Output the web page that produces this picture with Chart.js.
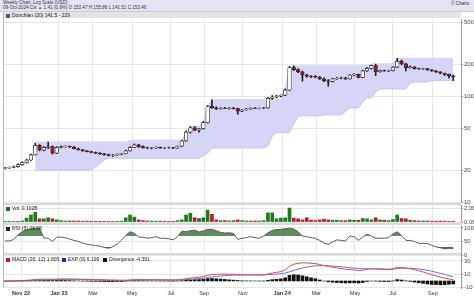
<!DOCTYPE html>
<html>
<head>
<meta charset="utf-8">
<script src="https://cdn.jsdelivr.net/npm/chart.js@4.4.1/dist/chart.umd.min.js"></script>
<style>
  body { margin: 0; width: 474px; height: 296px; overflow: hidden; background: #fff; position: relative; font-family: "Liberation Sans", Arial, sans-serif; }
  canvas { position: absolute; left: 0; top: 0; }
  #head { position: absolute; left: 0; top: 0; width: 474px; height: 11px; background: #e3e3f3; border-bottom: 1px solid #c9c9dd; }
  .htxt { position: absolute; left: 3px; font-size: 4.6px; color: #334; white-space: nowrap; }
  .strip { position: absolute; left: 4px; width: 457px; background: #d9d9d9; }
  .lbl { position: absolute; font-size: 5px; color: #222; white-space: nowrap; z-index: 5; line-height: 6px; }
  .sq { display: inline-block; width: 4px; height: 4px; margin-right: 2px; vertical-align: -0.5px; }
  #edge { position: absolute; left: 3px; top: 12px; width: 1px; height: 276px; background: #b8b8b8; }
</style>
</head>
<body>
<div id="head">
  <div class="htxt" style="top:0px">Weekly Chart, Log Scale (USD)</div>
  <div class="htxt" style="top:5px">09-Oct-2024 Cls <span style="color:#2a9a2a">&#9650;</span> 1.41 (0.9%) O 153.47 H 155.86 L 141.51 C 153.46</div>
  <div class="htxt" style="top:1px;left:451px">&copy; Charts</div>
</div>
<div class="strip" style="top:12px;height:6px;background:#e4e4e4"></div>
<div class="strip" style="top:202px;height:3px"></div>
<div class="strip" style="top:222px;height:3px"></div>
<div class="strip" style="top:253px;height:3px"></div>
<div id="edge"></div>

<div class="lbl" style="left:6px;top:12px"><span class="sq" style="background:#555577"></span>Donchian (20) 141.5 - 229</div>
<div class="lbl" style="left:6px;top:205px"><span class="sq" style="background:#1d6b1d"></span>Vol: 0.102B</div>
<div class="lbl" style="left:6px;top:225px"><span class="sq" style="background:#222"></span>RSI (5) 23.58</div>
<div class="lbl" style="left:6px;top:256px"><span class="sq" style="background:#c0182c"></span>MACD (26, 12) 1.805</div>
<div class="lbl" style="left:62px;top:256px"><span class="sq" style="background:#2a2aa0"></span>EXP (9) 6.196</div>
<div class="lbl" style="left:103px;top:256px"><span class="sq" style="background:#111"></span>Divergence -4.391</div>

<canvas id="mainChart" width="474" height="296"></canvas>
<canvas id="volChart" width="474" height="296"></canvas>
<canvas id="rsiChart" width="474" height="296"></canvas>
<canvas id="macdChart" width="474" height="296"></canvas>

<script>
// ========== DATA (weekly, Oct 2022 - Oct 2024) ========== //
const tickPos = [3.7, 12.5, 20.4, 29.5, 38.5, 46.2, 55.2, 64.3, 72.2, 81.2, 90, 99.3];
const tickLabels = ["Nov 22", "Jan 23", "Mar", "May", "Jul", "Sep", "Nov", "Jan 24", "Mar", "May", "Jul", "Sep"];
const yearLabels = ["Nov 22", "Jan 23", "Jan 24"];

const opens = [
  20.8, 21.0, 21.3, 21.6, 22.6, 23.6, 25.0, 28.0, 34.5, 31.0,
  33.0, 33.5, 29.0, 33.0, 33.5, 33.8, 33.2, 32.0, 31.2, 30.5,
  30.0, 29.5, 29.0, 28.6, 28.1, 27.6, 27.9, 28.3, 28.8, 30.5,
  33.0, 34.8, 33.5, 32.7, 32.4, 32.6, 32.9, 32.5, 32.7, 32.6,
  32.4, 33.8, 38.0, 46.0, 50.5, 48.0, 49.5, 56.5, 81.0, 78.0,
  76.5, 77.5, 77.0, 77.8, 76.8, 72.5, 74.5, 76.5, 77.5, 77.0,
  77.5, 78.0, 96.0, 99.0, 101.0, 103.0, 115.0, 188.0, 180.0, 171.0,
  160.0, 156.0, 155.0, 153.0, 147.0, 141.0, 139.0, 147.0, 149.0, 150.5,
  147.0, 160.0, 162.0, 152.0, 175.0, 185.0, 196.0, 172.0, 176.0, 175.0,
  176.0, 190.0, 215.0, 204.0, 188.0, 191.0, 184.0, 183.0, 183.5, 179.0,
  175.0, 171.0, 166.0, 162.0, 157.0
];
const highs = [
  21.3, 21.5, 22.0, 23.0, 24.0, 25.5, 28.5, 36.0, 35.0, 33.5,
  37.0, 34.0, 33.5, 34.0, 34.2, 34.0, 33.8, 32.5, 31.5, 30.8,
  30.3, 29.8, 29.4, 28.9, 28.5, 28.2, 28.6, 29.0, 31.0, 33.5,
  35.5, 35.2, 34.0, 33.2, 33.0, 33.3, 33.2, 33.0, 33.2, 33.0,
  34.0, 38.5, 47.0, 52.0, 52.0, 50.0, 58.0, 82.0, 93.0, 80.0,
  78.5, 79.0, 78.5, 79.0, 77.5, 75.0, 77.0, 78.0, 78.5, 78.0,
  79.0, 98.0, 102.0, 103.0, 104.0, 118.0, 192.0, 195.0, 183.0, 174.0,
  163.0, 158.0, 158.0, 155.0, 150.0, 145.0, 149.0, 152.0, 153.0, 152.0,
  162.0, 165.0, 163.0, 178.0, 188.0, 198.0, 203.0, 178.0, 178.0, 178.0,
  192.0, 230.0, 222.0, 206.0, 195.0, 192.0, 186.0, 186.0, 184.0, 180.0,
  176.0, 172.0, 167.0, 163.0, 160.0
];
const lows = [
  20.6, 20.8, 21.1, 21.4, 22.3, 23.4, 24.8, 27.8, 30.5, 30.5,
  32.0, 28.5, 28.8, 32.5, 33.0, 32.8, 31.8, 31.0, 30.2, 29.8,
  29.2, 28.7, 28.3, 27.8, 27.3, 27.0, 27.6, 28.0, 28.6, 30.3,
  32.8, 33.0, 32.4, 32.0, 31.8, 32.2, 32.2, 32.0, 32.3, 32.0,
  32.2, 33.5, 37.5, 45.0, 47.5, 46.0, 49.0, 56.0, 77.0, 75.0,
  75.5, 76.5, 76.0, 76.0, 68.0, 72.0, 74.0, 75.5, 76.5, 76.0,
  76.5, 77.5, 94.0, 97.0, 99.0, 102.0, 114.0, 176.0, 168.0, 140.0,
  152.0, 151.0, 150.0, 145.0, 138.0, 125.0, 137.0, 145.0, 147.0, 145.0,
  146.0, 157.0, 150.0, 151.0, 173.0, 182.0, 158.0, 170.0, 173.0, 172.0,
  175.0, 188.0, 200.0, 175.0, 186.0, 182.0, 181.0, 181.0, 177.0, 173.0,
  169.0, 164.0, 158.0, 150.0, 141.5
];
const closes = [
  21.0, 21.3, 21.6, 22.6, 23.6, 25.0, 28.0, 34.5, 31.0, 33.0,
  33.5, 29.0, 33.0, 33.5, 33.8, 33.2, 32.0, 31.2, 30.5, 30.0,
  29.5, 29.0, 28.6, 28.1, 27.6, 27.9, 28.3, 28.8, 30.5, 33.0,
  34.8, 33.5, 32.7, 32.4, 32.6, 32.9, 32.5, 32.7, 32.6, 32.4,
  33.8, 38.0, 46.0, 50.5, 48.0, 49.5, 56.5, 80.0, 78.0, 76.5,
  77.5, 77.0, 77.8, 76.8, 72.5, 74.5, 76.5, 77.5, 77.0, 77.5,
  78.0, 96.0, 99.0, 101.0, 103.0, 115.0, 188.0, 180.0, 171.0, 160.0,
  156.0, 155.0, 153.0, 147.0, 141.0, 139.0, 147.0, 149.0, 150.5, 147.0,
  160.0, 162.0, 152.0, 175.0, 185.0, 196.0, 172.0, 176.0, 175.0, 176.0,
  190.0, 215.0, 204.0, 188.0, 191.0, 184.0, 183.0, 183.5, 179.0, 175.0,
  171.0, 166.0, 162.0, 157.0, 153.5
];

// Donchian (20) channel
const dcUpper = [
  null, null, null, null, null, null, null, 37, 37, 37,
  37, 37, 37, 37, 37, 37, 37, 37, 37, 37,
  37, 37, 37, 37, 37, 37, 37, 37, 37, 38.5,
  38.5, 38.5, 38.5, 38.5, 38.5, 38.5, 38.5, 38.5, 38.5, 38.5,
  38.5, 38.5, 47, 52, 52, 52, 58, 82, 93, 93,
  93, 93, 93, 93, 93, 93, 93, 93, 93, 93,
  93, 93, 93, 93, 93, 118, 192, 195, 195, 195,
  195, 195, 195, 195, 195, 195, 195, 195, 195, 195,
  195, 195, 195, 195, 195, 203, 203, 203, 203, 203,
  205, 230, 230, 230, 230, 230, 230, 230, 230, 230,
  230, 230, 230, 230, 230
];
const dcLower = [
  null, null, null, null, null, null, null, 20, 20, 20,
  20, 20, 20, 20, 20, 20, 20, 20, 20, 20,
  20, 21.5, 23, 25, 26, 26, 26, 26, 26, 26,
  26, 26, 26, 26, 26, 26, 26, 26, 26, 26,
  26, 26, 26, 26, 26, 26, 27.5, 29, 32.5, 32.5,
  32.5, 32.5, 32.5, 32.5, 32.5, 32.5, 32.5, 32.5, 32.5, 32.5,
  32.5, 34, 42, 45.5, 45.5, 45.5, 45.5, 55, 65, 65.6,
  65.6, 65.6, 65.6, 65.6, 67, 67, 67, 67, 67, 72,
  78, 78, 78, 88, 97, 97, 110, 118, 118, 118,
  118, 118, 118, 118, 134, 137, 137, 137, 137, 141.5,
  141.5, 141.5, 141.5, 141.5, 141.5
];

// volume in billions
const volume = [
  0.04, 0.05, 0.06, 0.10, 0.15, 0.55, 1.0, 1.4, 0.45, 0.45,
  0.6, 0.45, 0.3, 0.2, 0.15, 0.15, 0.15, 0.15, 0.12, 0.12,
  0.1, 0.1, 0.1, 0.1, 0.1, 0.1, 0.1, 0.12, 0.6, 1.0,
  0.7, 0.3, 0.2, 0.15, 0.15, 0.12, 0.12, 0.12, 0.1, 0.1,
  0.2, 0.3, 1.0, 1.25, 0.6, 0.5, 0.6, 1.7, 1.1, 0.3,
  0.2, 0.2, 0.15, 0.2, 0.3, 0.2, 0.15, 0.15, 0.15, 0.15,
  0.2, 1.3, 1.3, 0.45, 0.55, 0.6, 2.0, 0.55, 0.45, 0.3,
  0.6, 0.25, 0.2, 0.3, 0.4, 0.3, 0.25, 0.25, 0.2, 0.2,
  0.3, 0.25, 0.25, 0.5, 0.45, 0.3, 0.6, 0.3, 0.25, 0.2,
  0.35, 1.0, 0.5, 0.45, 0.25, 0.2, 0.15, 0.15, 0.15, 0.12,
  0.12, 0.15, 0.12, 0.1, 0.102
];

const rsi = [
  52, 52, 57, 75, 86, 93, 97, 99, 99, 63,
  62, 50, 66, 66, 64, 59, 54, 50, 44, 40,
  37, 35, 33, 28, 25, 31, 40, 55, 72, 86,
  80, 66, 66, 62, 64, 68, 62, 62, 60, 56,
  68, 88, 86, 90, 92, 85, 89, 95, 95, 90,
  84, 81, 82, 80, 58, 62, 64, 68, 64, 62,
  70, 82, 91, 94, 95, 97, 99, 96, 86, 70,
  68, 64, 61, 54, 44, 40, 48, 56, 54, 52,
  70, 68, 54, 66, 77, 70, 62, 62, 62, 64,
  78, 86, 72, 54, 54, 50, 43, 43, 42, 36,
  30, 27, 23, 25, 23.6
];

const macd = [
  -0.5, -0.3, 0, 0.3, 0.6, 1.0, 1.5, 2.2, 2.5, 2.6,
  2.8, 2.6, 2.8, 3.0, 3.0, 2.9, 2.7, 2.5, 2.3, 2.0,
  1.8, 1.5, 1.3, 1.0, 0.7, 0.5, 0.4, 0.4, 0.8, 1.5,
  2.0, 2.1, 2.0, 1.9, 1.8, 1.7, 1.6, 1.5, 1.4, 1.3,
  1.5, 2.2, 3.3, 4.4, 5.0, 5.6, 6.5, 8.5, 9.5, 10.0,
  10.2, 10.2, 10.1, 10.0, 9.6, 9.3, 9.2, 9.2, 9.1, 9.0,
  9.0, 10.5, 11.8, 12.8, 14.0, 16.5, 22.0, 25.0, 26.5, 27.0,
  27.0, 26.5, 26.0, 24.5, 23.0, 21.5, 20.5, 19.5, 18.5, 17.5,
  17.0, 16.5, 15.5, 16.0, 17.5, 18.2, 18.0, 17.5, 17.0, 16.8,
  18.0, 20.5, 20.3, 19.2, 18.3, 16.8, 15.2, 13.4, 11.4, 9.4,
  7.6, 5.8, 4.3, 3.0, 1.8
];
const signal = [
  0, 0, 0, 0.1, 0.2, 0.3, 0.5, 0.8, 1.1, 1.4,
  1.6, 1.8, 2.0, 2.2, 2.3, 2.4, 2.5, 2.5, 2.5, 2.4,
  2.3, 2.2, 2.0, 1.9, 1.7, 1.5, 1.3, 1.2, 1.1, 1.2,
  1.4, 1.5, 1.6, 1.7, 1.7, 1.7, 1.7, 1.7, 1.6, 1.6,
  1.6, 1.7, 2.0, 2.5, 3.0, 3.5, 4.1, 5.0, 5.9, 6.7,
  7.4, 7.9, 8.4, 8.7, 8.9, 9.0, 9.1, 9.1, 9.1, 9.1,
  9.1, 9.4, 9.8, 10.3, 10.9, 11.8, 13.6, 15.7, 17.6, 19.3,
  20.7, 21.8, 22.6, 23.0, 23.0, 22.7, 22.3, 21.8, 21.2, 20.5,
  19.8, 19.2, 18.6, 18.3, 18.2, 18.2, 18.2, 18.1, 17.9, 17.7,
  17.8, 18.4, 18.9, 19.0, 18.9, 18.5, 17.8, 17.0, 15.9, 14.6,
  13.0, 11.5, 9.8, 7.9, 6.2
];
const divergence = [
  -0.5, -0.3, 0, 0.2, 0.4, 0.7, 1.0, 1.4, 1.4, 1.2,
  1.2, 0.8, 0.8, 0.8, 0.7, 0.5, 0.2, 0, -0.2, -0.4,
  -0.5, -0.7, -0.7, -0.9, -1.0, -1.0, -0.9, -0.8, -0.3, 0.3,
  0.6, 0.6, 0.4, 0.2, 0.1, 0, -0.1, -0.2, -0.2, -0.3,
  -0.1, 0.5, 1.3, 1.9, 2.0, 2.1, 2.4, 3.5, 3.6, 3.3,
  2.8, 2.3, 1.7, 1.3, 0.7, 0.3, 0.1, 0.1, 0, -0.1,
  -0.1, 1.1, 2.0, 2.5, 3.1, 4.7, 8.4, 9.3, 8.9, 7.7,
  6.3, 4.7, 3.4, 1.5, 0, -1.2, -1.8, -2.3, -2.7, -3.0,
  -2.8, -2.7, -3.1, -2.3, -0.7, 0, -0.2, -0.6, -0.9, -0.9,
  0.2, 2.1, 1.4, 0.2, -0.6, -1.7, -2.6, -3.6, -4.5, -5.2,
  -5.4, -5.7, -5.5, -4.9, -4.4
];

// ========== COLOURS ========== //
const UP = "#ffffff", DOWN = "#a3182c", EDGE = "#1e1e1e";
const VOL_UP = "#1f7a1f", VOL_DOWN = "#b21d2d";
const BAND = "#d5d5f8", BAND_EDGE = "#bdbdee";
const GRID = "#e6e6e6";

// ========== HELPERS ========== //
const pts = arr => arr.map((v, i) => ({ x: i, y: v }));
const isDown = i => closes[i] < opens[i];
const tickFont = { family: "'Liberation Sans', Arial, sans-serif", size: 6 };

function xAxis(showLabels) {
  return {
    type: "linear", min: -0.25, max: 105.8, offset: false,
    afterBuildTicks: s => { s.ticks = tickPos.map(v => ({ value: v })); },
    afterFit: s => { s.height = showLabels ? 8 : 0; },
    grid: { color: GRID, drawTicks: false, offset: false },
    border: { display: false },
    ticks: {
      display: showLabels, autoSkip: false, maxRotation: 0, padding: 2,
      color: "#333",
      font: ctx => ({ ...tickFont, size: 5.5, weight: yearLabels.includes(tickLabels[ctx.index]) ? "bold" : "normal" }),
      callback: (v, i) => tickLabels[i]
    }
  };
}

function yAxis(extra) {
  return Object.assign({
    position: "right",
    afterFit: s => { s.width = 13; },
    grid: { color: GRID, tickLength: 2, tickColor: "#888" },
    border: { display: true, color: "#999" },
    ticks: { color: "#444", font: tickFont, padding: 1 }
  }, extra);
}

function baseOptions(padTop, padBottom) {
  return {
    responsive: false, animation: false, devicePixelRatio: 1,
    layout: { padding: { left: 4, right: 0, top: padTop, bottom: padBottom } },
    plugins: { legend: { display: false }, tooltip: { enabled: false } }
  };
}

// ========== MAIN PRICE PANEL ========== //
const mainOpts = baseOptions(19, 94);
mainOpts.scales = {
  x: xAxis(false),
  y: yAxis({
    type: "logarithmic", min: 10, max: 543,
    afterBuildTicks: s => { s.ticks = [10, 20, 50, 100, 200, 500].map(v => ({ value: v })); },
    ticks: { color: "#444", font: tickFont, padding: 1, callback: v => String(v) }
  })
};
new Chart(document.getElementById("mainChart"), {
  type: "bar",
  data: {
    datasets: [
      { type: "line", data: pts(dcUpper), borderColor: BAND_EDGE, borderWidth: 0.8, pointRadius: 0, fill: false, order: 10 },
      { type: "line", data: pts(dcLower), borderColor: BAND_EDGE, borderWidth: 0.8, pointRadius: 0, fill: "-1", backgroundColor: BAND, order: 9 },
      { data: lows.map((l, i) => ({ x: i, y: [l, highs[i]] })), backgroundColor: EDGE, barThickness: 1, grouped: false, order: 2 },
      {
        data: opens.map((o, i) => ({ x: i, y: [o, closes[i]] })),
        backgroundColor: opens.map((o, i) => isDown(i) ? DOWN : UP),
        borderColor: EDGE, borderWidth: 0.7, borderSkipped: false,
        barThickness: 3.6, grouped: false, order: 1
      }
    ]
  },
  options: mainOpts
});

// ========== VOLUME PANEL ========== //
const volOpts = baseOptions(205, 74);
volOpts.scales = {
  x: xAxis(false),
  y: yAxis({
    min: 0, max: 2.43,
    afterBuildTicks: s => { s.ticks = [0, 1, 2].map(v => ({ value: v })); },
    ticks: { color: "#444", font: tickFont, padding: 1, callback: v => v.toFixed(1) + "B" }
  })
};
new Chart(document.getElementById("volChart"), {
  type: "bar",
  data: {
    datasets: [{
      data: pts(volume),
      backgroundColor: volume.map((v, i) => isDown(i) ? VOL_DOWN : VOL_UP),
      barThickness: 3, grouped: false
    }]
  },
  options: volOpts
});

// ========== RSI PANEL ========== //
const rsiOpts = baseOptions(225, 41);
rsiOpts.scales = {
  x: xAxis(false),
  y: yAxis({
    min: 0, max: 111,
    afterBuildTicks: s => { s.ticks = [0, 30, 50, 70, 100].map(v => ({ value: v })); },
    grid: {
      tickLength: 2, tickColor: "#888",
      color: ctx => ctx.tick && ctx.tick.value === 70 ? "#d6d6d6" : ctx.tick && ctx.tick.value === 30 ? "#d98a8a" : GRID,
      lineWidth: ctx => ctx.tick && ctx.tick.value === 70 ? 3 : 1
    }
  })
};
new Chart(document.getElementById("rsiChart"), {
  type: "line",
  data: {
    datasets: [
      { data: pts(rsi), borderColor: "#5a5a5a", borderWidth: 1, pointRadius: 0,
        fill: { target: { value: 70 }, above: "#5d8c5d", below: "rgba(0,0,0,0)" } },
      { data: pts(rsi), borderColor: "#5a5a5a", borderWidth: 0, pointRadius: 0,
        fill: { target: { value: 30 }, above: "rgba(0,0,0,0)", below: "#8e4646" } }
    ]
  },
  options: rsiOpts
});

// ========== MACD PANEL ========== //
const macdOpts = baseOptions(256, 0);
macdOpts.scales = {
  x: xAxis(true),
  y: yAxis({
    min: -10.5, max: 37.3,
    afterBuildTicks: s => { s.ticks = [-10, 0, 10, 20, 30].map(v => ({ value: v })); }
  })
};
new Chart(document.getElementById("macdChart"), {
  type: "bar",
  data: {
    datasets: [
      { type: "line", data: pts(macd), borderColor: "#e2474f", borderWidth: 1, pointRadius: 0, order: 1 },
      { type: "line", data: pts(signal), borderColor: "#6670e0", borderWidth: 1, pointRadius: 0, order: 2 },
      { data: pts(divergence), backgroundColor: "#111", barThickness: 3, grouped: false, order: 3 }
    ]
  },
  options: macdOpts
});
</script>
</body>
</html>
